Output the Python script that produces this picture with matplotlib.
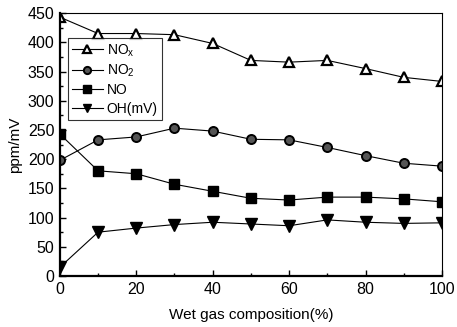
import matplotlib
matplotlib.use("Agg")
import matplotlib.pyplot as plt
import matplotlib.ticker as ticker

plt.rcParams['font.family'] = ['Liberation Sans', 'DejaVu Sans']
plt.rcParams['mathtext.fontset'] = 'custom'
plt.rcParams['mathtext.rm'] = 'Liberation Sans'
plt.rcParams['mathtext.it'] = 'Liberation Sans'

# valeurs
wet_gas = [0, 10, 20, 30, 40, 50, 60, 70, 80, 90, 100]
nox = [443, 415, 415, 413, 398, 369, 366, 369, 355, 340, 333]
no2 = [198, 233, 238, 253, 248, 234, 233, 220, 206, 193, 188]
no = [243, 180, 175, 157, 145, 133, 130, 135, 135, 132, 127]
oh = [15, 75, 82, 88, 92, 89, 86, 96, 92, 90, 91]

fig = plt.figure(figsize=(4.57, 3.27), dpi=100)
ax = fig.add_axes([0.131, 0.156, 0.836, 0.804])

ax.plot(wet_gas, nox, color='black', lw=0.8, marker='^', ms=7,
        mfc='white', mec='black', mew=1.6, label='NO$_x$')
ax.plot(wet_gas, no2, color='black', lw=0.8, marker='o', ms=6.5,
        mfc='#555555', mec='black', mew=1.4, label='NO$_2$')
ax.plot(wet_gas, no, color='black', lw=0.8, marker='s', ms=6.5,
        mfc='black', mec='black', label='NO')
ax.plot(wet_gas, oh, color='black', lw=0.8, marker='v', ms=8,
        mfc='black', mec='black', label='OH(mV)')

ax.set_xlim(0, 100)
ax.set_ylim(0, 450)
ax.xaxis.set_major_locator(ticker.MultipleLocator(20))
ax.xaxis.set_minor_locator(ticker.MultipleLocator(10))
ax.yaxis.set_major_locator(ticker.MultipleLocator(50))
ax.yaxis.set_minor_locator(ticker.MultipleLocator(25))
ax.tick_params(which='both', direction='in', labelsize=11.5, pad=4)
ax.tick_params(which='major', length=4, width=1)
ax.tick_params(which='minor', length=2, width=1)
for s in ['left', 'bottom']:
    ax.spines[s].set_linewidth(1.6)
for s in ['top', 'right']:
    ax.spines[s].set_linewidth(0.8)

ax.set_xlabel('Wet gas composition(%)', fontsize=11, labelpad=8)
ax.set_ylabel('ppm/mV', fontsize=11)

leg = ax.legend(loc='upper left', bbox_to_anchor=(0.021, 0.905), fontsize=10,
                frameon=True, fancybox=False, edgecolor='black',
                handlelength=2.2, handletextpad=0.3, borderpad=0.3,
                labelspacing=0.3, markerscale=0.8, borderaxespad=0)
leg.get_frame().set_linewidth(0.8)

fig.savefig('out.png', dpi=100)
